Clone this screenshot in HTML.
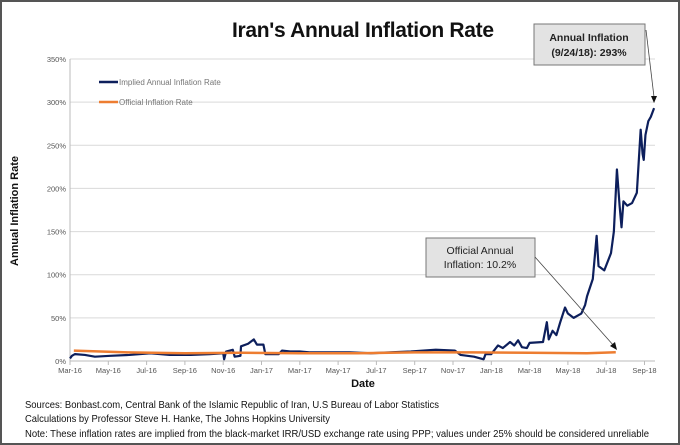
<!DOCTYPE html>
<html><head><meta charset="utf-8"><style>
html,body{margin:0;padding:0;background:#fff;}
svg{display:block;font-family:"Liberation Sans",sans-serif;}
</style></head><body>
<svg id="chart" width="680" height="445" viewBox="0 0 680 445">
<rect x="1" y="1" width="678" height="443" fill="#fff" stroke="#555" stroke-width="2"/>
<text x="363" y="37" text-anchor="middle" font-size="21" font-weight="bold" fill="#111" textLength="262">Iran's Annual Inflation Rate</text>
<g id="grid"></g>
<g id="yticks"></g>
<g id="xticks"></g>
<g id="series"></g>
<text transform="translate(18,211) rotate(-90)" text-anchor="middle" font-size="11" font-weight="bold" fill="#111">Annual Inflation Rate</text>
<text x="363" y="387" text-anchor="middle" font-size="11" font-weight="bold" fill="#111">Date</text>
<g>
<g><line x1="99" y1="82" x2="118" y2="82" stroke="#0d1f5c" stroke-width="2.5"/><text x="119" y="85" font-size="8" fill="#777">Implied Annual Inflation Rate</text></g>
<g><line x1="99" y1="102" x2="118" y2="102" stroke="#ed7d31" stroke-width="2.5"/><text x="119" y="105" font-size="8" fill="#777">Official Inflation Rate</text></g>
</g>
<g>
<rect x="534" y="24" width="111" height="41" fill="#e3e3e3" stroke="#777" stroke-width="1"/>
<text x="589" y="41" text-anchor="middle" font-size="10.5" font-weight="bold" fill="#222">Annual Inflation</text>
<text x="589" y="56" text-anchor="middle" font-size="10.5" font-weight="bold" fill="#222">(9/24/18): 293%</text>
<line x1="646" y1="30" x2="654" y2="97" stroke="#444" stroke-width="0.8"/>
<polygon points="654,103 651,96 657,96" fill="#111"/>
</g>
<g>
<rect x="426" y="238" width="109" height="39" fill="#e3e3e3" stroke="#777" stroke-width="1"/>
<text x="480" y="254" text-anchor="middle" font-size="10.5" fill="#222">Official Annual</text>
<text x="480" y="268" text-anchor="middle" font-size="10.5" fill="#222">Inflation: 10.2%</text>
<line x1="535" y1="257" x2="614" y2="346" stroke="#444" stroke-width="0.8"/>
<polygon points="617,350 610,346 615,342" fill="#111"/>
</g>
<g>
<text x="25" y="408" font-size="10.5" fill="#111" textLength="414" lengthAdjust="spacingAndGlyphs">Sources: Bonbast.com, Central Bank of the Islamic Republic of Iran, U.S Bureau of Labor Statistics</text>
<text x="25" y="422" font-size="10.5" fill="#111" textLength="305" lengthAdjust="spacingAndGlyphs">Calculations by Professor Steve H. Hanke, The Johns Hopkins University</text>
<text x="25" y="437" font-size="10.5" fill="#111" textLength="624" lengthAdjust="spacingAndGlyphs">Note: These inflation rates are implied from the black-market IRR/USD exchange rate using PPP; values under 25% should be considered unreliable</text>
</g>
</svg>
<script>
const yTicks=[0,50,100,150,200,250,300,350];
const xTickLabels=["Mar-16","May-16","Jul-16","Sep-16","Nov-16","Jan-17","Mar-17","May-17","Jul-17","Sep-17","Nov-17","Jan-18","Mar-18","May-18","Jul-18","Sep-18"];
const xTickMonths=[0,2,4,6,8,10,12,14,16,18,20,22,24,26,28,30];
const impliedMonths=[0,0.1,0.26,0.78,1.3,2.1,3.1,4.2,5.2,6.3,7.3,8.0,8.05,8.15,8.5,8.6,8.9,8.93,9.3,9.6,9.76,10.1,10.2,10.9,11.07,11.5,12,12.5,13.6,14.6,15.7,16.7,17.8,19.1,20.1,20.4,21.1,21.6,21.7,22,22.35,22.6,22.98,23.2,23.4,23.6,23.86,24,24.7,24.9,25,25.2,25.4,25.6,25.85,26,26.3,26.7,26.9,27,27.3,27.5,27.6,27.9,28.25,28.4,28.56,28.7,28.8,28.9,29.1,29.35,29.6,29.8,29.9,29.96,30.05,30.2,30.33,30.5];
const impliedValues=[3,6,8,7,5,6,7,9,7,7,8,9,2,11,13,5,6,17,20,25,19,19,8,8,12,11,11,10,10,10,9,10,11,13,12,7,5,2,8,8,18,15,22,18,24,16,15,21,22,45,25,35,30,45,62,55,50,55,65,75,95,145,110,105,125,150,222,180,155,185,180,183,195,268,240,233,262,278,283,293];
const officialMonths=[0.2,3,6,9,12,15,18,21,24,27,28.5];
const officialValues=[12,10,9,9.5,9,9,10,10,9.5,9,10.2];
const X0=70,XM=19.15,Y0=361,YS=0.8629;
const xs=m=>X0+m*XM, ys=v=>Y0-v*YS;
const NS="http://www.w3.org/2000/svg";
function mk(t,a,p){const e=document.createElementNS(NS,t);for(const k in a)e.setAttribute(k,a[k]);p.appendChild(e);return e;}
const grid=document.getElementById('grid'),yt=document.getElementById('yticks'),xt=document.getElementById('xticks'),se=document.getElementById('series');
yTicks.forEach(v=>{
 const l=mk('line',{x1:X0,x2:655,y1:ys(v),y2:ys(v),stroke:v===0?'#bbb':'#d9d9d9','stroke-width':1},grid);
 
 
 const t=mk('text',{x:X0-4,y:ys(v)+3,'text-anchor':'end','font-size':7.5,fill:'#555'},yt);
 t.textContent=v+'%';
 
 
});
mk('line',{x1:X0,x2:X0,y1:ys(350),y2:Y0,stroke:'#bbb'},grid);
xTickLabels.forEach((s,i)=>{
 const x=xs(xTickMonths[i]);
 mk('line',{x1:x,x2:x,y1:Y0,y2:Y0+4,stroke:'#bbb'},xt);
 const t=mk('text',{x:x,y:Y0+12,'text-anchor':'middle','font-size':7.5,fill:'#555'},xt);
 t.textContent=s;
 
 
});
const op=mk('polyline',{points:officialMonths.map((m,i)=>xs(m)+','+ys(officialValues[i])).join(' '),fill:'none',stroke:'#ed7d31','stroke-width':2.5},se);


const ip=mk('polyline',{points:impliedMonths.map((m,i)=>xs(m)+','+ys(impliedValues[i])).join(' '),fill:'none',stroke:'#0d1f5c','stroke-width':2.2,'stroke-linejoin':'round'},se);


se.insertBefore(ip,op);
</script>
</body></html>
